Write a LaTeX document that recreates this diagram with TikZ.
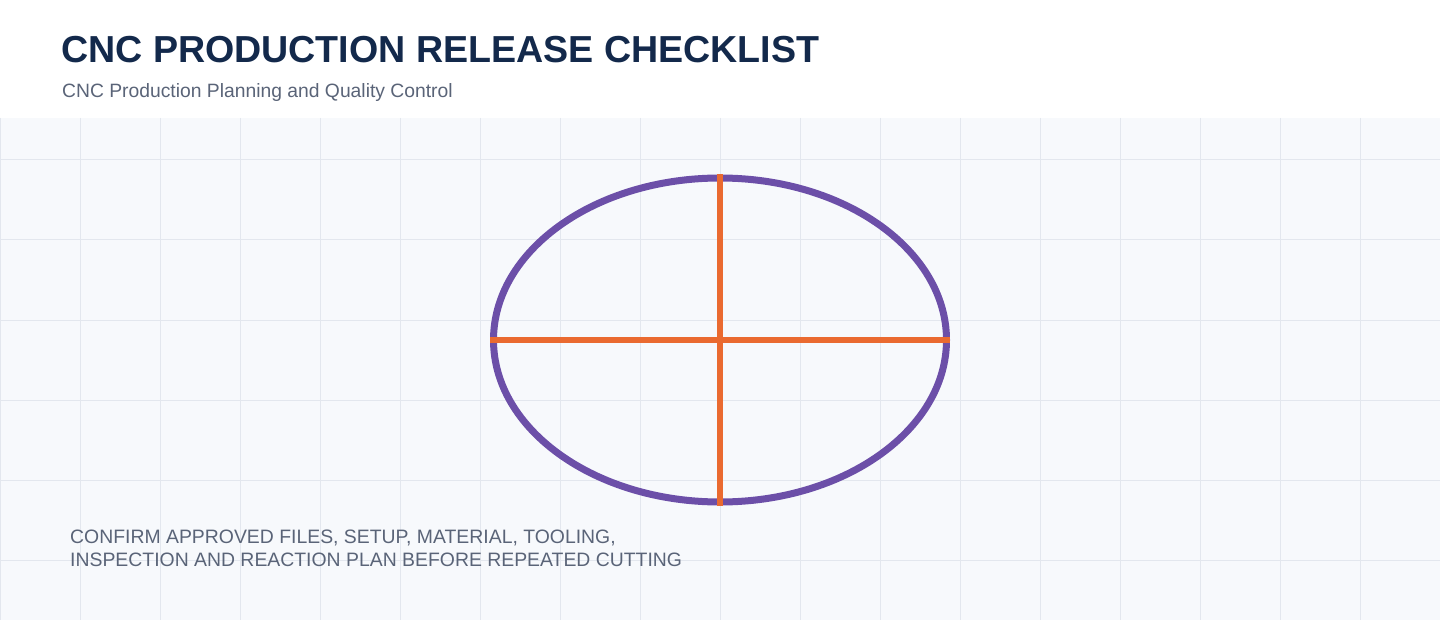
\documentclass[tikz,border=0pt]{standalone}
\usepackage{fontspec}
\setmainfont{Liberation Sans}
\usetikzlibrary{shapes.geometric}
\definecolor{titlecol}{HTML}{13294B}
\definecolor{subcol}{HTML}{5A6478}
\definecolor{bgcol}{HTML}{F7F9FC}
\definecolor{gridcol}{HTML}{E3E7EE}
\definecolor{purp}{HTML}{6C4FA8}
\definecolor{orng}{HTML}{EA6A30}
\tikzset{
  gridline/.style={draw=gridcol, line width=1pt},
  ring/.style={ellipse, draw=purp, line width=7pt, minimum width=453pt, minimum height=324pt, inner sep=0pt},
  axisline/.style={draw=orng, line width=6pt},
  titletext/.style={anchor=base west, inner sep=0pt, text=titlecol, font=\fontsize{37.6}{44}\selectfont\bfseries},
  subtext/.style={anchor=base west, inner sep=0pt, text=subcol, font=\fontsize{19.3}{22}\selectfont},
  notetext/.style={anchor=base west, inner sep=0pt, text=subcol, font=\fontsize{19.4}{23}\selectfont, align=left}
}
\begin{document}
\begin{tikzpicture}[x=1pt,y=-1pt]
\useasboundingbox (0,0) rectangle (1440,620);
\fill[white] (0,0) rectangle (1440,118);
\fill[bgcol] (0,118) rectangle (1440,620);
\foreach \gx in {0,80,...,1440} {\draw[gridline] (\gx,118) -- (\gx,620);}
\foreach \gy in {160,240,...,560} {\draw[gridline] (0,\gy) -- (1440,\gy);}
\node[titletext] (title) at (61,63) {CNC PRODUCTION RELEASE CHECKLIST};
\node[subtext] (sub) at (62,98) {CNC Production Planning and Quality Control};
\node[ring] (e) at (720,340) {};
\draw[axisline] (e.west) -- (e.east);
\draw[axisline] (e.north) -- (e.south);
\node[notetext] (note1) at (70,543) {CONFIRM APPROVED FILES, SETUP, MATERIAL, TOOLING,};
\node[notetext] (note2) at (70,566) {INSPECTION AND REACTION PLAN BEFORE REPEATED CUTTING};
\end{tikzpicture}
\end{document}
